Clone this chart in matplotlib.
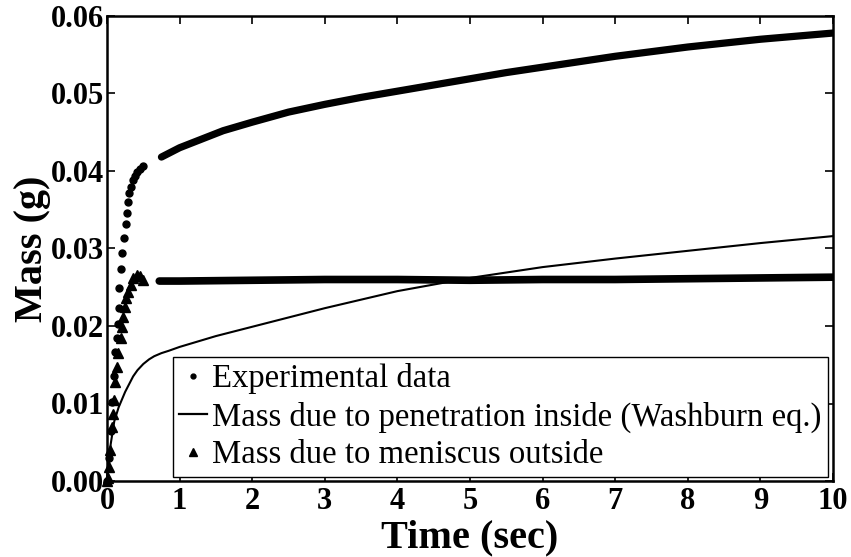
import matplotlib
matplotlib.use("Agg")
import matplotlib.pyplot as plt
from matplotlib.lines import Line2D

plt.rcParams["font.family"] = ["Liberation Serif", "DejaVu Serif"]

# experimental data, sparse early part and dense later part
exp_t_early = [0, 0.03, 0.05, 0.075, 0.095, 0.115, 0.135, 0.15, 0.16, 0.172, 0.19, 0.21,
               0.23, 0.255, 0.275, 0.29, 0.307, 0.33, 0.354, 0.386, 0.417, 0.455, 0.5]
exp_m_early = [0, 0.003, 0.0064, 0.0102, 0.0135, 0.0167, 0.0184, 0.0203, 0.0223, 0.0249, 0.0273, 0.0294,
               0.0314, 0.0331, 0.0346, 0.0360, 0.0371, 0.0380, 0.0388, 0.0394, 0.0399, 0.0403, 0.0406]
exp_t_late = [0.75, 1.0, 1.3, 1.6, 2.0, 2.5, 3.0, 3.5, 4.0, 4.5, 5.0, 5.5, 6.0, 7.0, 8.0, 9.0, 10.0]
exp_m_late = [0.0418, 0.0430, 0.0441, 0.0452, 0.0463, 0.0476, 0.0486, 0.0495, 0.0503, 0.0511,
              0.0519, 0.0527, 0.0534, 0.0548, 0.0560, 0.0570, 0.0578]

# Washburn penetration mass
wash_t = [0, 0.05, 0.1, 0.16, 0.25, 0.36, 0.42, 0.5, 0.58, 0.65, 0.75, 0.85, 1.0, 1.5, 2.0,
          3.0, 4.0, 5.0, 6.0, 7.0, 8.0, 9.0, 10.0]
wash_m = [0, 0.0047, 0.0077, 0.0095, 0.0115, 0.0135, 0.0143, 0.0151, 0.0157, 0.0161, 0.0165,
          0.0168, 0.0173, 0.0187, 0.0199, 0.0223, 0.0245, 0.0262, 0.0276, 0.0287, 0.0297,
          0.0307, 0.0316]

# meniscus mass outside
men_t_early = [0, 0.018, 0.028, 0.041, 0.065, 0.079, 0.096, 0.11, 0.134, 0.156, 0.189, 0.211,
               0.225, 0.248, 0.262, 0.293, 0.326, 0.362, 0.409, 0.455, 0.5]
men_m_early = [0, 0.0004, 0.0018, 0.004, 0.007, 0.0087, 0.0105, 0.0128, 0.0147, 0.0165, 0.0184, 0.0199,
               0.0212, 0.0225, 0.0236, 0.0244, 0.0253, 0.0262, 0.0266, 0.0264, 0.026]
men_t_late = [0.72, 1.0, 2.0, 3.0, 4.0, 5.0, 6.0, 7.0, 8.0, 9.0, 10.0]
men_m_late = [0.0258, 0.0258, 0.0259, 0.026, 0.026, 0.0259, 0.026, 0.026, 0.0261, 0.0262, 0.0263]

xticks = list(range(0, 11))
yticks = [0.00, 0.01, 0.02, 0.03, 0.04, 0.05, 0.06]

fig = plt.figure(figsize=(8.51, 5.57), dpi=100)
ax = fig.add_axes([107 / 851, 1 - 481 / 557, 726 / 851, 465 / 557])

ax.plot(wash_t, wash_m, color="black", lw=1.5, zorder=2)
ax.plot(men_t_early, men_m_early, ls="none", marker="^", ms=6.5, color="black", zorder=3, clip_on=False)
ax.plot(men_t_late, men_m_late, color="black", lw=5.5, solid_capstyle="round", zorder=3)
ax.plot(exp_t_early, exp_m_early, ls="none", marker="o", ms=5, color="black", zorder=4, clip_on=False)
ax.plot(exp_t_late, exp_m_late, color="black", lw=5.2, solid_capstyle="round", zorder=4)

ax.set_xlim(0, 10)
ax.set_ylim(0, 0.06)
ax.set_xticks(xticks)
ax.set_yticks(yticks)
ax.set_xticklabels([str(t) for t in xticks])
ax.set_yticklabels([f"{v:.2f}" for v in yticks])
ax.tick_params(direction="in", top=True, right=True, length=6, width=1.2)
ax.tick_params(axis="x", pad=4)
ax.tick_params(axis="y", pad=2)
for lab in ax.get_xticklabels() + ax.get_yticklabels():
    lab.set_fontsize(22)
    lab.set_fontweight("bold")
for sp in ax.spines.values():
    sp.set_linewidth(1.8)

ax.set_xlabel("Time (sec)", fontsize=29, fontweight="bold", labelpad=3)
ax.set_ylabel("Mass (g)", fontsize=29, fontweight="bold", labelpad=0)

handles = [
    Line2D([], [], ls="none", marker="o", ms=3.5, color="black"),
    Line2D([], [], color="black", lw=1.6),
    Line2D([], [], ls="none", marker="^", ms=5.5, color="black"),
]
labels = ["Experimental data", "Mass due to penetration inside (Washburn eq.)",
          "Mass due to meniscus outside"]
leg = ax.legend(handles, labels, loc="lower right", bbox_to_anchor=(0.993, 0.0086),
                borderaxespad=0, fontsize=23.6, handlelength=0.85, handletextpad=0.15,
                labelspacing=0.22, borderpad=0.2, fancybox=False, framealpha=1,
                edgecolor="black")
leg.get_frame().set_linewidth(1.0)

fig.savefig("out.png", dpi=100)
